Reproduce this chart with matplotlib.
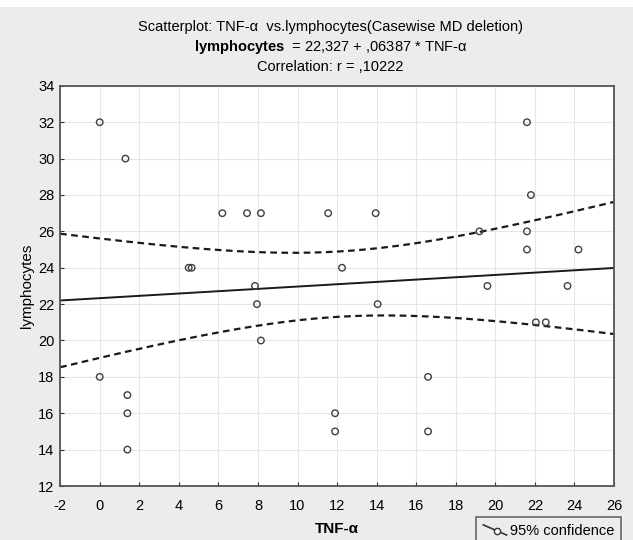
import numpy as np
import matplotlib.pyplot as plt
from matplotlib.lines import Line2D
from matplotlib.legend_handler import HandlerLine2D
from matplotlib.patches import Rectangle

plt.rcParams['font.family'] = ['Liberation Sans', 'DejaVu Sans']
plt.rcParams['mathtext.fontset'] = 'custom'
plt.rcParams['mathtext.rm'] = 'Liberation Sans'
plt.rcParams['mathtext.bf'] = 'Liberation Sans:bold'
plt.rcParams['axes.unicode_minus'] = False

# data
tnf = [0.0, 1.3, 0.0, 1.4, 1.4, 1.4, 4.5, 4.65, 6.2, 7.45, 8.15, 7.85, 7.95, 8.15,
       11.55, 12.25, 11.9, 11.9, 13.95, 14.05, 16.6, 16.6, 19.2, 19.6,
       21.6, 21.8, 21.6, 21.6, 22.05, 22.55, 23.65, 24.2]
lymph = [32, 30, 18, 17, 16, 14, 24, 24, 27, 27, 27, 23, 22, 20,
         27, 24, 16, 15, 27, 22, 18, 15, 26, 23,
         32, 28, 26, 25, 21, 21, 23, 25]
# fit as printed in the chart header
intercept = 22.327
slope = 0.06387
xticks = list(range(-2, 27, 2))
yticks = list(range(12, 35, 2))

x = np.array(tnf)
y = np.array(lymph)
n = len(x)

# 95% confidence band for the mean
res = y - (intercept + slope * x)
s = np.sqrt(np.sum(res ** 2) / (n - 2))
sxx = np.sum((x - x.mean()) ** 2)
xx = np.linspace(-2, 26, 200)
yy = intercept + slope * xx
half = 2.042 * s * np.sqrt(1 / n + (xx - x.mean()) ** 2 / sxx)

fig = plt.figure(figsize=(6.33, 5.4), dpi=100, facecolor='#ececec')
fig.patches.append(Rectangle((0, 0.987), 1, 0.013, transform=fig.transFigure,
                             facecolor='white', edgecolor='none', zorder=0))
ax = fig.add_axes([0.095, 0.1, 0.875, 0.741])
ax.set_facecolor('white')

ax.plot(xx, yy, color='#1a1a1a', lw=1.4)
ax.plot(xx, yy + half, color='#1a1a1a', lw=1.6, ls=(0, (3, 2)))
ax.plot(xx, yy - half, color='#1a1a1a', lw=1.6, ls=(0, (3, 2)))
ax.scatter(x, y, s=22, facecolors='none', edgecolors='#404040', linewidths=1.0, zorder=3)

ax.set_xlim(-2, 26)
ax.set_ylim(12, 34)
ax.set_xticks(xticks)
ax.set_yticks(yticks)
ax.tick_params(axis='x', direction='in', length=3, labelsize=10.5, color='#333333', pad=9)
ax.tick_params(axis='y', direction='in', length=3, labelsize=10.5, color='#333333', pad=4)
ax.grid(True, color='#e6e6e6', lw=0.8)
for sp in ax.spines.values():
    sp.set_color('#555555')
    sp.set_linewidth(1.3)

ax.set_xlabel('TNF-α', fontsize=11, fontweight='bold', labelpad=7)
ax.set_ylabel('lymphocytes', fontsize=11, labelpad=3)

cx = 0.522
fig.text(cx, 0.950, 'Scatterplot: TNF-α  vs.lymphocytes(Casewise MD deletion)',
         ha='center', va='center', fontsize=10.5)
fig.text(cx, 0.913, r'$\bf{lymphocytes}$  = 22,327 + ,06387 * TNF-α',
         ha='center', va='center', fontsize=10.5)
fig.text(cx, 0.876, 'Correlation: r = ,10222',
         ha='center', va='center', fontsize=10.5)


class DiagHandler(HandlerLine2D):
    def create_artists(self, legend, orig_handle, xdescent, ydescent, width, height, fontsize, trans):
        line = Line2D([0, width], [height, 0], color='#333333', lw=1.2)
        line.set_transform(trans)
        mark = Line2D([width * 0.6], [height * 0.4], marker='o', markersize=4.5,
                      markerfacecolor='white', markeredgecolor='#333333', lw=0)
        mark.set_transform(trans)
        return [line, mark]


handle = Line2D([], [], color='#333333', lw=1.2)
leg = fig.legend([handle], ['95% confidence'], loc='upper left',
                 bbox_to_anchor=(0.752, 0.043), fontsize=10.5, frameon=True,
                 fancybox=False, handlelength=1.6, handletextpad=0.2,
                 borderpad=0.5, borderaxespad=0, handler_map={Line2D: DiagHandler()})
leg.get_frame().set_facecolor('#ececec')
leg.get_frame().set_edgecolor('#444444')
leg.get_frame().set_linewidth(1.2)

fig.savefig('out.png', dpi=100, facecolor=fig.get_facecolor())
